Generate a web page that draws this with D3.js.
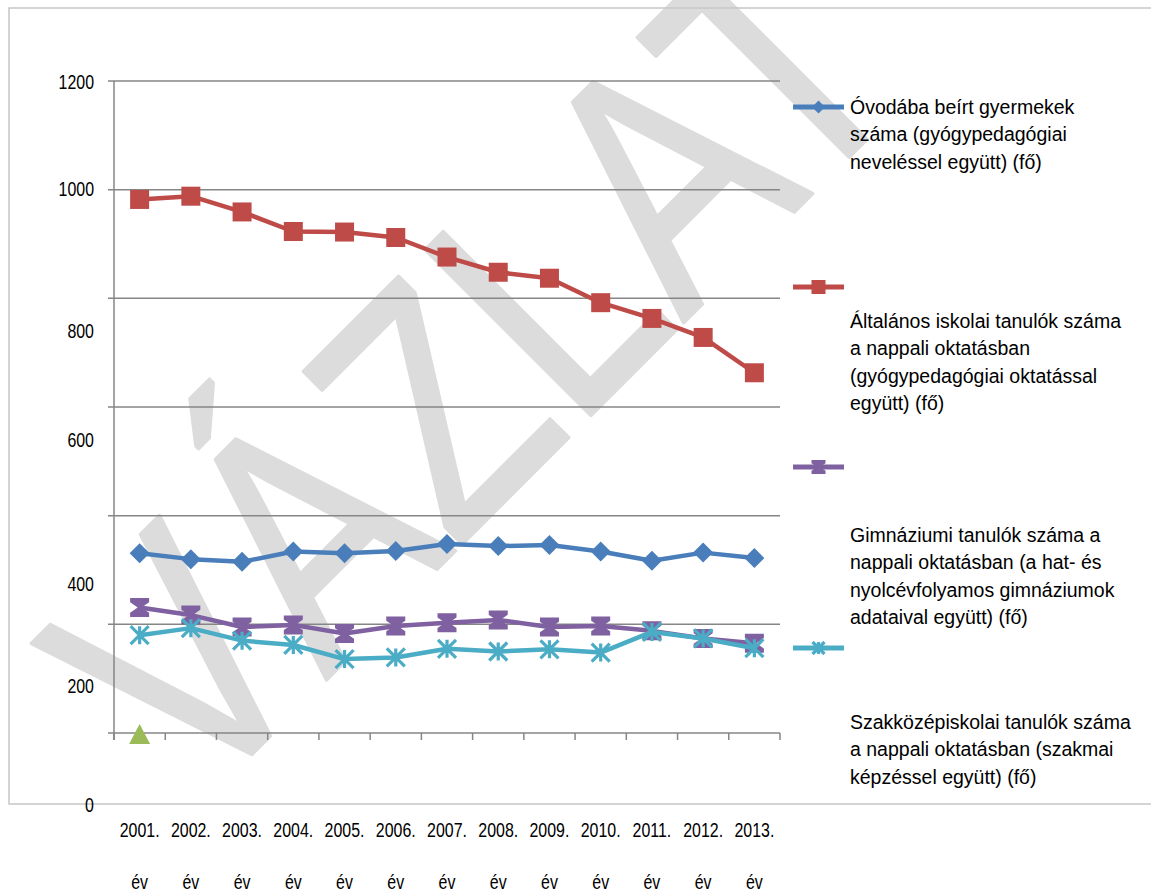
<!DOCTYPE html>
<html><head><meta charset="utf-8">
<script src="https://cdn.jsdelivr.net/npm/d3@7"></script>
<style>body{margin:0;background:#fff;} svg{display:block;font-family:'Liberation Sans',Arial,sans-serif;}</style>
</head><body><svg id="c" width="1151" height="893"></svg>
<script>
// ---------- data ----------
const years = ["2001.","2002.","2003.","2004.","2005.","2006.","2007.","2008.","2009.","2010.","2011.","2012.","2013."];
const yearSuffix = "év";
const yTickValues = [0, 200, 400, 600, 800, 1000, 1200];
const ovoda      = [331, 320, 315, 334, 331, 335, 348, 344, 346, 334, 317, 332, 322];
const altalanos  = [982, 988, 959, 923, 922, 912, 876, 848, 837, 792, 763, 728, 663];
const gimnazium  = [231, 217, 195, 199, 183, 197, 203, 208, 195, 197, 188, 174, 165];
const szakkozep  = [180, 193, 170, 162, 136, 139, 155, 150, 154, 148, 186, 174, 156];
const extraSeries = [0];
const legendOvoda = ["Óvodába beírt gyermekek", "száma (gyógypedagógiai", "neveléssel együtt) (fő)"];
const legendAltalanos = ["Általános iskolai tanulók száma", "a nappali oktatásban", "(gyógypedagógiai oktatással", "együtt) (fő)"];
const legendGimnazium = ["Gimnáziumi tanulók száma a", "nappali oktatásban (a hat- és", "nyolcévfolyamos gimnáziumok", "adataival együtt) (fő)"];
const legendSzakkozep = ["Szakközépiskolai tanulók száma", "a nappali oktatásban (szakmai", "képzéssel együtt) (fő)"];
const watermarkText = "VÁZLAT";

// ---------- layout ----------
const svg = d3.select("#c");
const plot = {left: 114, right: 780, top: 81, bottom: 733};
const x = d3.scaleBand().domain(years).range([plot.left, plot.right]);
const xc = d => x(d) + x.bandwidth() / 2;
const y = d3.scaleLinear().domain([0, 1200]).range([plot.bottom, plot.top]);
const axisColor = "#868686";
const narrow = 0.76;
const axisFont = 21;

function label(g, tx, ty, s, size, anchor, sx) {
  return g.append("text")
    .attr("transform", `translate(${tx},${ty}) scale(${sx},1)`)
    .attr("text-anchor", anchor)
    .attr("font-size", size)
    .attr("fill", "#000")
    .text(s);
}

// watermark
svg.append("text")
  .attr("transform", "translate(196,810) rotate(-45) scale(0.81,1)")
  .attr("font-size", 340)
  .attr("fill", "#dcdcdc")
  .attr("stroke", "#dcdcdc")
  .attr("stroke-width", 4)
  .attr("stroke-linejoin", "round")
  .text(watermarkText);

// outer frame
svg.append("rect").attr("x", 9).attr("y", 8).attr("width", 1160).attr("height", 796)
  .attr("fill", "none").attr("stroke", "#c6c6c6").attr("stroke-width", 1.5);

// gridlines + y ticks
const grid = svg.append("g");
grid.selectAll("line").data(yTickValues).join("line")
  .attr("x1", plot.left - 6).attr("x2", plot.right)
  .attr("y1", d => y(d)).attr("y2", d => y(d))
  .attr("stroke", axisColor).attr("stroke-width", 1.5);
// y axis line
svg.append("line").attr("x1", plot.left).attr("x2", plot.left)
  .attr("y1", plot.top).attr("y2", plot.bottom + 7)
  .attr("stroke", axisColor).attr("stroke-width", 1.5);
// x ticks at band edges
const edges = years.map(d => x(d)).concat([x(years[years.length - 1]) + x.bandwidth()]);
svg.append("g").selectAll("line").data(edges).join("line")
  .attr("x1", d => d).attr("x2", d => d)
  .attr("y1", plot.bottom).attr("y2", plot.bottom + 7)
  .attr("stroke", axisColor).attr("stroke-width", 1.5);

// y labels (offset as in the source layout)
const yLabelShift = {0: 78.5, 200: 69, 400: 75.5, 600: 39.5, 800: 40, 1000: 6.5, 1200: 7.5};
const yl = svg.append("g");
yTickValues.forEach(v => label(yl, 94, y(v) + yLabelShift[v], String(v), axisFont, "end", narrow));

// x labels
const xl = svg.append("g");
years.forEach(d => {
  label(xl, xc(d), 837, d, axisFont, "middle", narrow);
  label(xl, xc(d), 889, yearSuffix, axisFont, "middle", narrow);
});

// marker shapes
const shapes = {
  diamond: r => `M0,${-r}L${r},0L0,${r}L${-r},0Z`,
  square: r => `M${-r},${-r}H${r}V${r}H${-r}Z`,
  hourglass: r => `M${-r},${-r}H${r}V${-r*0.55}L${r*0.2},0L${r},${r*0.55}V${r}H${-r}V${r*0.55}L${-r*0.2},0L${-r},${-r*0.55}Z`,
  star: r => `M${-r},${-r}L${r},${r}M${r},${-r}L${-r},${r}M0,${-r}V${r}`,
  triangle: r => `M0,${-r}L${r*1.05},${r}L${-r*1.05},${r}Z`
};

const series = [
  {values: ovoda, color: "#4A7EBB", shape: "diamond", r: 10, lr: 6.5, legend: legendOvoda},
  {values: altalanos, color: "#BE4B48", shape: "square", r: 9.5, lr: 7, legend: legendAltalanos},
  {values: gimnazium, color: "#7F60A0", shape: "hourglass", r: 9.5, lr: 7, legend: legendGimnazium},
  {values: szakkozep, color: "#4BACC6", shape: "star", r: 9, lr: 6, legend: legendSzakkozep}
];

const line = d3.line().x((v, i) => xc(years[i])).y(v => y(v));

function marker(g, shape, r, color, tx, ty) {
  const p = g.append("path").attr("d", shapes[shape](r)).attr("transform", `translate(${tx},${ty})`);
  if (shape === "star") p.attr("fill", "none").attr("stroke", color).attr("stroke-width", 3.2);
  else p.attr("fill", color);
}

series.forEach(s => {
  const g = svg.append("g");
  g.append("path").attr("d", line(s.values)).attr("fill", "none")
    .attr("stroke", s.color).attr("stroke-width", 4.5).attr("stroke-linejoin", "round");
  s.values.forEach((v, i) => marker(g, s.shape, s.r, s.color, xc(years[i]), y(v)));
});
// single-point series
extraSeries.forEach((v, i) => marker(svg, "triangle", 10, "#9BBB59", xc(years[i]), y(v) + 1));

// legend
const legendSymbolY = [107, 287, 467, 648];
const legendTextY = [114, 328, 542, 729];
const legendLineH = 27.3;
const lg = svg.append("g");
series.forEach((s, k) => {
  lg.append("line").attr("x1", 793).attr("x2", 844)
    .attr("y1", legendSymbolY[k]).attr("y2", legendSymbolY[k])
    .attr("stroke", s.color).attr("stroke-width", 5);
  marker(lg, s.shape, s.lr, s.color, 818.5, legendSymbolY[k]);
  s.legend.forEach((t, j) => label(lg, 850, legendTextY[k] + j * legendLineH, t, 19.5, "start", 1));
});
</script></body></html>
